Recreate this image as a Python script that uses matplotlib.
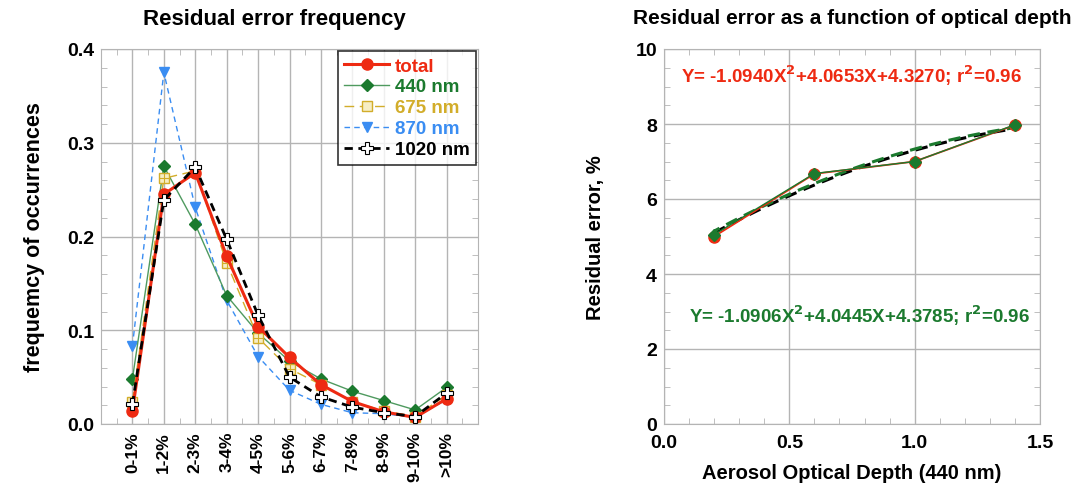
import matplotlib
matplotlib.use("Agg")
import matplotlib.pyplot as plt
import numpy as np
from matplotlib.ticker import MultipleLocator

plt.rcParams['font.family'] = ['Liberation Sans', 'DejaVu Sans']
plt.rcParams['font.weight'] = 'bold'

# Left panel: residual error frequency
bins = ['0-1%', '1-2%', '2-3%', '3-4%', '4-5%', '5-6%', '6-7%', '7-8%', '8-9%', '9-10%', '>10%']
freq_total = [0.014, 0.245, 0.268, 0.179, 0.104, 0.071, 0.042, 0.024, 0.013, 0.007, 0.027]
freq_440 = [0.048, 0.275, 0.213, 0.137, 0.097, 0.067, 0.048, 0.035, 0.025, 0.015, 0.039]
freq_675 = [0.024, 0.262, 0.270, 0.172, 0.092, 0.059, 0.042, 0.024, 0.014, 0.008, 0.031]
freq_870 = [0.083, 0.375, 0.231, 0.132, 0.072, 0.036, 0.021, 0.012, 0.011, 0.007, 0.026]
freq_1020 = [0.021, 0.239, 0.274, 0.197, 0.116, 0.050, 0.029, 0.018, 0.012, 0.008, 0.033]

# Right panel: residual error vs AOD
aod = [0.2, 0.6, 1.0, 1.4]
err_total = [5.00, 6.67, 7.00, 7.97]
err_440 = [5.05, 6.68, 7.00, 7.98]
fit_total = [-1.0940, 4.0653, 4.3270]
fit_440 = [-1.0906, 4.0445, 4.3785]

RED = '#ee2a12'
GREEN = '#1b7a2e'
LGREEN = '#4f9a5f'
YELLOW = '#d2ad2a'
BLUE = '#3a8df2'
GRID = '#b4b4b4'

W, H = 1075, 485
fig = plt.figure(figsize=(W / 100, H / 100), dpi=100)


def px_axes(x0, x1, y0, y1):
    return fig.add_axes([x0 / W, (H - y1) / H, (x1 - x0) / W, (y1 - y0) / H])


def style_axes(ax):
    for s in ax.spines.values():
        s.set_color(GRID)
    ax.grid(True, which='major', color=GRID, lw=1)
    ax.tick_params(which='both', direction='in', color=GRID, top=True, right=True)
    ax.tick_params(which='major', length=0, labelsize=14, pad=5)
    ax.tick_params(which='minor', length=4)
    ax.set_axisbelow(True)


# ---------------- left ----------------
ax1 = px_axes(101, 478, 50, 425)
xs = np.arange(len(bins))
ax1.plot(xs, freq_870, color=BLUE, lw=1, ls=(0, (4, 3)), marker='v', ms=7,
         mfc=BLUE, mec=BLUE, label='870 nm', zorder=3)
ax1.plot(xs, freq_440, color=LGREEN, lw=1, marker='D', ms=6,
         mfc=GREEN, mec=GREEN, label='440 nm', zorder=4)
ax1.plot(xs, freq_675, color=YELLOW, lw=1, ls=(0, (7, 4)), marker='s', ms=7,
         mfc='#f6edc4', mec=YELLOW, mew=1, label='675 nm', zorder=5)
ax1.plot(xs, freq_675, ls='none', marker='+', ms=7, mec=YELLOW, mew=0.8, zorder=5)
ax1.plot(xs, freq_total, color=RED, lw=2.2, marker='o', ms=8,
         mfc=RED, mec=RED, label='total', zorder=6)
ax1.plot(xs, freq_1020, color='black', lw=2, ls=(0, (3, 2)), marker='P', ms=8,
         mfc='white', mec='black', mew=0.8, label='1020 nm', zorder=7)

ax1.set_xlim(-1, 11)
ax1.set_ylim(0, 0.4)
ax1.set_xticks(xs)
ax1.set_xticklabels(bins, rotation=90, fontweight='bold')
ax1.xaxis.set_minor_locator(MultipleLocator(0.5))
ax1.yaxis.set_minor_locator(MultipleLocator(0.02))
ax1.set_yticks([0, 0.1, 0.2, 0.3, 0.4])
ax1.set_yticklabels(['0.0', '0.1', '0.2', '0.3', '0.4'])
style_axes(ax1)
ax1.tick_params(axis='x', labelsize=12.5)
ax1.set_ylabel('frequemcy of occurrences', fontsize=15.5, fontweight='bold', labelpad=16)

handles, labels = ax1.get_legend_handles_labels()
order = [labels.index(n) for n in ['total', '440 nm', '675 nm', '870 nm', '1020 nm']]
leg = ax1.legend([handles[i] for i in order], [labels[i] for i in order],
                 loc='upper right', bbox_to_anchor=(1.0, 1.0), frameon=True, fancybox=False,
                 fontsize=13.5, handlelength=2.4, handletextpad=0.3, borderpad=0.35,
                 labelspacing=0.2, borderaxespad=0.1)
leg.get_frame().set_edgecolor('black')
leg.get_frame().set_linewidth(1.2)
for t, c in zip(leg.get_texts(), [RED, GREEN, YELLOW, BLUE, 'black']):
    t.set_color(c)
    t.set_fontweight('bold')
leg.set_zorder(10)

fig.text(274 / W, 1 - 20 / H, 'Residual error frequency', ha='center', va='center',
         fontsize=16, fontweight='bold')

# ---------------- right ----------------
ax2 = px_axes(664, 1040, 50, 425)
xf = np.linspace(min(aod), max(aod), 100)
ax2.plot(xf, np.polyval(fit_total, xf), color='black', lw=2.2, ls=(0, (4, 2.5)), zorder=3)
ax2.plot(xf, np.polyval(fit_440, xf), color=GREEN, lw=2.2, ls=(2, (4, 2.5)), zorder=3)
ax2.plot(aod, err_total, color=RED, lw=1.3, marker='o', ms=8, mfc=RED, mec=RED, zorder=4)
ax2.plot(aod, err_440, color=GREEN, lw=1, marker='D', ms=6, mfc=GREEN, mec=GREEN, zorder=5)

ax2.set_xlim(0, 1.5)
ax2.set_ylim(0, 10)
ax2.xaxis.set_minor_locator(MultipleLocator(0.1))
ax2.yaxis.set_major_locator(MultipleLocator(2))
ax2.yaxis.set_minor_locator(MultipleLocator(0.5))
ax2.set_xticks([0, 0.5, 1.0, 1.5])
ax2.set_xticklabels(['0.0', '0.5', '1.0', '1.5'])
style_axes(ax2)
ax2.tick_params(axis='x', pad=7)
ax2.set_xlabel('Aerosol Optical Depth (440 nm)', fontsize=14.5, fontweight='bold', labelpad=9)
ax2.set_ylabel('Residual error, %', fontsize=14.5, fontweight='bold', labelpad=22)
ax2.set_title('Residual error as a function of optical depth', fontsize=15,
              fontweight='bold', pad=19)

ax2.text(0.5, 0.93, r'Y= -1.0940X$^\mathbf{2}$+4.0653X+4.3270; r$^\mathbf{2}$=0.96',
         transform=ax2.transAxes, ha='center', va='center', color=RED,
         fontsize=13.5, fontweight='bold')
ax2.text(0.52, 0.29, r'Y= -1.0906X$^\mathbf{2}$+4.0445X+4.3785; r$^\mathbf{2}$=0.96',
         transform=ax2.transAxes, ha='center', va='center', color=GREEN,
         fontsize=13.5, fontweight='bold')

fig.savefig('out.png', dpi=100)
